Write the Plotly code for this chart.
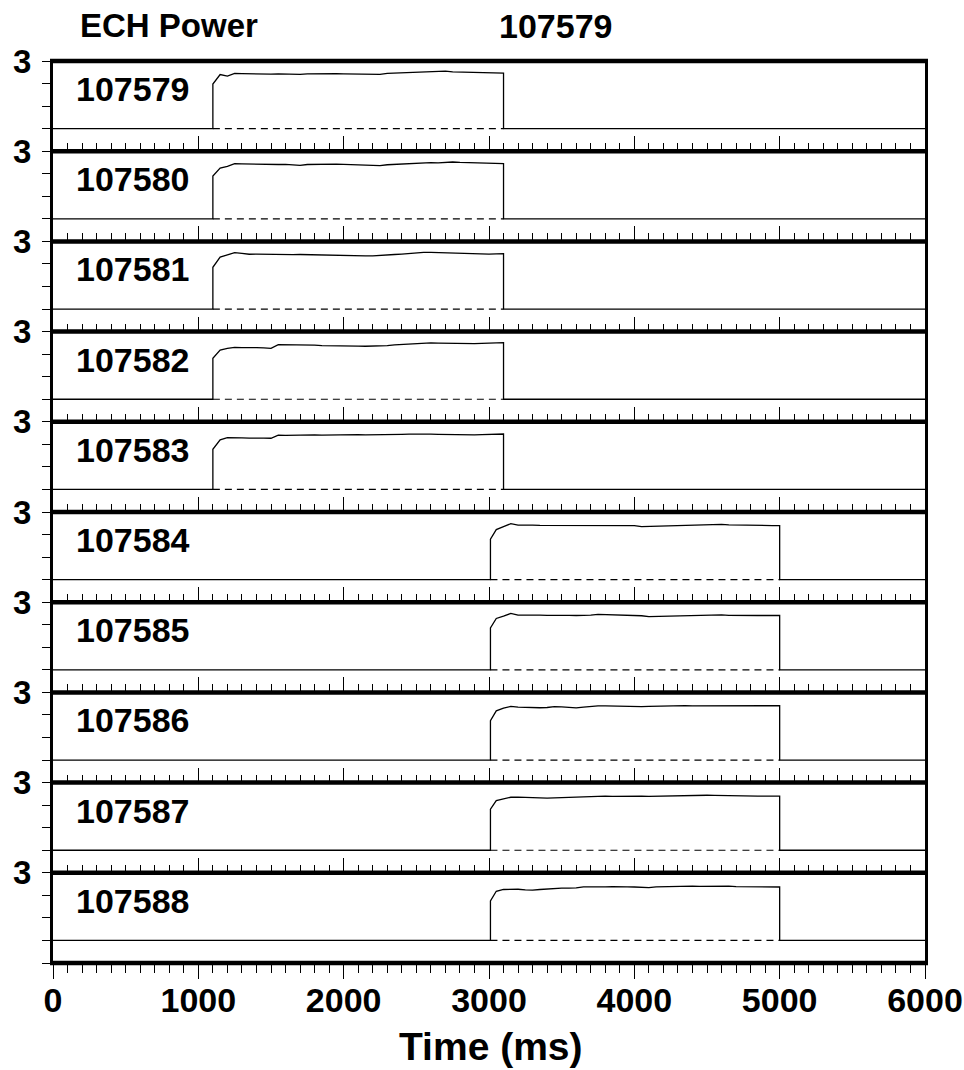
import plotly.graph_objects as go
from plotly.subplots import make_subplots

shots = ["107579", "107580", "107581", "107582", "107583",
         "107584", "107585", "107586", "107587", "107588"]
pulse_start = [1100, 1100, 1100, 1100, 1100, 3010, 3010, 3010, 3010, 3010]
pulse_end = [3100, 3100, 3100, 3100, 3100, 5000, 5000, 5000, 5000, 5000]
times_a = list(range(1100, 3101, 50))
times_b = [3010] + list(range(3050, 5001, 50))
sample_times = [times_a] * 5 + [times_b] * 5

p_107579 = [1.98, 2.40, 2.33, 2.45, 2.44, 2.43, 2.44, 2.43, 2.42, 2.43, 2.42, 2.40, 2.41, 2.43, 2.44, 2.44, 2.43, 2.44, 2.43, 2.42, 2.42, 2.40, 2.39, 2.41, 2.45, 2.46, 2.48, 2.50, 2.51, 2.52, 2.53, 2.53, 2.55, 2.52, 2.51, 2.51, 2.51, 2.50, 2.49, 2.47, 2.46]
p_107580 = [1.90, 2.25, 2.33, 2.45, 2.44, 2.43, 2.43, 2.42, 2.42, 2.41, 2.42, 2.38, 2.37, 2.41, 2.42, 2.43, 2.42, 2.43, 2.42, 2.41, 2.40, 2.38, 2.35, 2.36, 2.40, 2.42, 2.43, 2.44, 2.46, 2.47, 2.49, 2.48, 2.50, 2.52, 2.50, 2.49, 2.48, 2.47, 2.46, 2.45, 2.45]
p_107581 = [1.85, 2.30, 2.40, 2.50, 2.47, 2.43, 2.44, 2.43, 2.43, 2.42, 2.42, 2.41, 2.42, 2.41, 2.41, 2.42, 2.41, 2.40, 2.38, 2.37, 2.36, 2.36, 2.36, 2.37, 2.39, 2.42, 2.44, 2.47, 2.50, 2.51, 2.51, 2.50, 2.49, 2.48, 2.46, 2.45, 2.44, 2.43, 2.44, 2.45, 2.46]
p_107582 = [1.82, 2.18, 2.26, 2.30, 2.29, 2.30, 2.29, 2.28, 2.26, 2.42, 2.42, 2.41, 2.41, 2.40, 2.40, 2.38, 2.38, 2.39, 2.37, 2.36, 2.36, 2.35, 2.35, 2.36, 2.38, 2.41, 2.43, 2.45, 2.47, 2.49, 2.50, 2.49, 2.48, 2.47, 2.47, 2.48, 2.47, 2.48, 2.48, 2.49, 2.51]
p_107583 = [1.78, 2.20, 2.30, 2.31, 2.29, 2.28, 2.29, 2.28, 2.27, 2.41, 2.40, 2.41, 2.40, 2.41, 2.42, 2.41, 2.42, 2.42, 2.43, 2.42, 2.43, 2.42, 2.42, 2.41, 2.42, 2.43, 2.44, 2.45, 2.46, 2.46, 2.45, 2.44, 2.43, 2.44, 2.43, 2.43, 2.42, 2.43, 2.43, 2.44, 2.46]
p_107584 = [1.80, 2.22, 2.35, 2.48, 2.42, 2.43, 2.42, 2.41, 2.41, 2.40, 2.41, 2.40, 2.40, 2.41, 2.40, 2.40, 2.41, 2.40, 2.40, 2.39, 2.40, 2.35, 2.36, 2.37, 2.37, 2.38, 2.38, 2.39, 2.40, 2.43, 2.43, 2.44, 2.45, 2.43, 2.42, 2.42, 2.41, 2.41, 2.41, 2.40, 2.40]
p_107585 = [1.86, 2.28, 2.38, 2.50, 2.43, 2.44, 2.43, 2.43, 2.42, 2.43, 2.42, 2.42, 2.41, 2.41, 2.43, 2.46, 2.45, 2.43, 2.42, 2.41, 2.42, 2.40, 2.36, 2.37, 2.38, 2.38, 2.39, 2.39, 2.40, 2.42, 2.44, 2.45, 2.44, 2.42, 2.41, 2.41, 2.42, 2.41, 2.41, 2.42, 2.41]
p_107586 = [1.75, 2.18, 2.30, 2.38, 2.35, 2.33, 2.31, 2.32, 2.33, 2.37, 2.36, 2.32, 2.31, 2.35, 2.39, 2.40, 2.40, 2.39, 2.40, 2.40, 2.39, 2.37, 2.38, 2.39, 2.39, 2.40, 2.40, 2.41, 2.40, 2.40, 2.40, 2.41, 2.40, 2.41, 2.42, 2.43, 2.42, 2.41, 2.42, 2.41, 2.41]
p_107587 = [1.82, 2.20, 2.28, 2.35, 2.36, 2.34, 2.32, 2.31, 2.31, 2.32, 2.33, 2.34, 2.35, 2.38, 2.40, 2.40, 2.40, 2.39, 2.40, 2.39, 2.40, 2.40, 2.39, 2.40, 2.41, 2.41, 2.42, 2.42, 2.43, 2.44, 2.44, 2.43, 2.42, 2.41, 2.40, 2.40, 2.41, 2.40, 2.40, 2.40, 2.40]
p_107588 = [1.75, 2.18, 2.26, 2.28, 2.27, 2.24, 2.23, 2.26, 2.29, 2.31, 2.32, 2.32, 2.33, 2.38, 2.37, 2.37, 2.38, 2.39, 2.40, 2.38, 2.37, 2.36, 2.34, 2.38, 2.39, 2.39, 2.40, 2.40, 2.41, 2.40, 2.41, 2.40, 2.40, 2.41, 2.39, 2.39, 2.40, 2.39, 2.38, 2.38, 2.37]
power = [p_107579, p_107580, p_107581, p_107582, p_107583,
         p_107584, p_107585, p_107586, p_107587, p_107588]

x_ticks = [0, 1000, 2000, 3000, 4000, 5000, 6000]
y_ticks = [-1, 0, 1, 2, 3]
y_ticktext = ["", "", "", "", "3"]
title_left = "ECH Power"
title_right = "107579"
x_title = "Time (ms)"

FONT = "Liberation Sans, Arial, Helvetica, sans-serif"
N = len(shots)
W, H = 964, 1070
ML, MR, MT, MB = 53, 39, 61, 107
PW = W - ML - MR
PH = H - MT - MB

fig = make_subplots(rows=N, cols=1, vertical_spacing=0)

for i in range(N):
    r = i + 1
    t = sample_times[i]
    v = power[i]
    xs = [0, pulse_start[i]] + t + [pulse_end[i], 6000]
    ys = [0, 0] + v + [0, 0]
    fig.add_trace(go.Scatter(x=[pulse_start[i], pulse_end[i]], y=[0, 0], mode="lines",
                             line=dict(color="black", width=1.2, dash="7px,5px"),
                             showlegend=False, hoverinfo="skip"), row=r, col=1)
    fig.add_trace(go.Scatter(x=xs, y=ys, mode="lines",
                             line=dict(color="black", width=1.3),
                             showlegend=False), row=r, col=1)
    last = (r == N)
    fig.update_xaxes(
        range=[0, 6000], showgrid=False, zeroline=False, showline=False,
        automargin=False,
        ticks="outside" if last else "inside",
        tickvals=x_ticks, ticklen=15, tickwidth=1.3, tickcolor="black",
        minor=dict(dtick=100, ticklen=9 if last else 8, tickwidth=1.2,
                   tickcolor="black", ticks="outside" if last else "inside", showgrid=False),
        showticklabels=last,
        tickfont=dict(family=FONT, size=34, color="black", weight="bold"),
        ticklabelstandoff=-8, ticklabeloverflow="allow",
        row=r, col=1)
    fig.update_yaxes(
        range=[-1, 3], showgrid=False, zeroline=False,
        automargin=False,
        showline=True, linewidth=3, linecolor="black", mirror=True,
        ticks="outside", tickvals=y_ticks, ticktext=y_ticktext,
        ticklen=8, tickwidth=1.3, tickcolor="black",
        tickfont=dict(family=FONT, size=33, color="black", weight="bold"),
        ticklabelstandoff=4,
        row=r, col=1)
    yref = "y domain" if r == 1 else f"y{r} domain"
    fig.add_annotation(text=shots[i], xref="paper", yref=yref,
                       x=(74 - ML) / PW, y=1 - 28 / (PH / N), xanchor="left", yanchor="middle",
                       showarrow=False,
                       font=dict(family=FONT, size=34, color="black", weight="bold"))

# panel separators / frame lines
for k in range(N + 1):
    yk = k / N
    fig.add_shape(type="line", xref="paper", yref="paper",
                  x0=-3 / PW, x1=1 + 3 / PW, y0=yk, y1=yk,
                  line=dict(color="black", width=4.5), layer="above")

fig.add_annotation(text=title_left, xref="paper", yref="paper", x=(78 - ML) / PW,
                   y=1 + (MT - 26) / PH, xanchor="left", yanchor="middle", showarrow=False,
                   font=dict(family=FONT, size=33, color="black", weight="bold"))
fig.add_annotation(text=title_right, xref="paper", yref="paper", x=(497 - ML) / PW,
                   y=1 + (MT - 26) / PH, xanchor="left", yanchor="middle", showarrow=False,
                   font=dict(family=FONT, size=34, color="black", weight="bold"))
fig.add_annotation(text=x_title, xref="paper", yref="paper", x=(491 - ML) / PW,
                   y=-(1046 - (H - MB)) / PH, xanchor="center", yanchor="middle", showarrow=False,
                   font=dict(family=FONT, size=39, color="black", weight="bold"))

fig.update_layout(width=W, height=H, margin=dict(l=ML, r=MR, t=MT, b=MB, autoexpand=False),
                  paper_bgcolor="white", plot_bgcolor="white", showlegend=False)

fig.write_html("out.html")
